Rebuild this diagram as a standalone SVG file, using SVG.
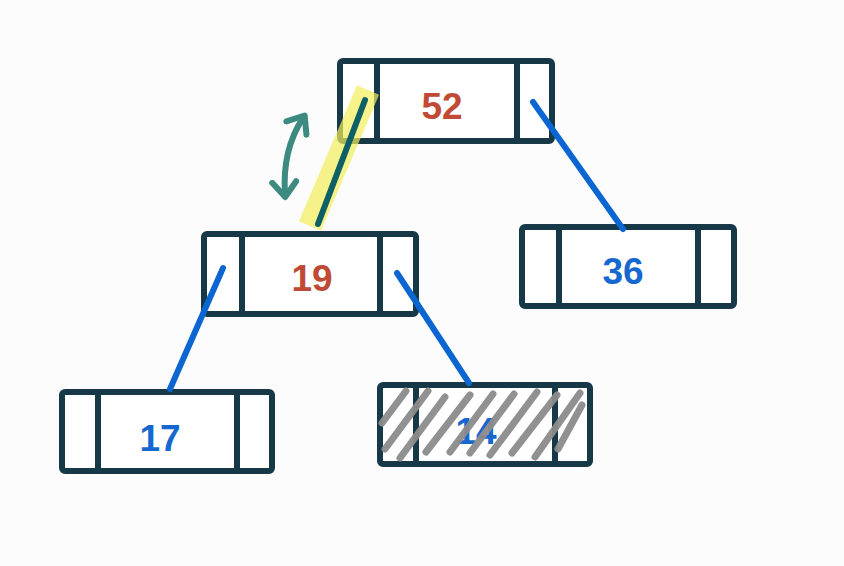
<svg xmlns="http://www.w3.org/2000/svg" width="844" height="566" viewBox="0 0 844 566">
<style>
.box{fill:#fff;stroke:#173847;stroke-width:6;stroke-linejoin:round}
.div{stroke:#173847;stroke-width:6}
.lbl{font-family:"Liberation Sans",Arial,sans-serif;font-weight:bold;font-size:37px;text-anchor:middle}
.red{fill:#c04a35}
.blue{fill:#1668d0}
.edge{stroke:#0b66d1;stroke-width:6;stroke-linecap:round;fill:none}
.hatch{stroke:#8c8c8c;stroke-width:7;stroke-linecap:round;opacity:0.95}
</style>
<defs>
<marker id="ah" viewBox="0 0 10 10" refX="5" refY="5" markerWidth="5" markerHeight="5" orient="auto-start-reverse" markerUnits="strokeWidth">
<path d="M1,1 L6,5 L1,9" fill="none" stroke="#3d8a80" stroke-width="2" stroke-linecap="round" stroke-linejoin="round"/>
</marker>
</defs>
<rect width="844" height="566" fill="#fcfcfc"/>
<g id="n52">
<rect class="box" x="340" y="61" width="212" height="80" rx="3"/>
<line class="div" x1="377" y1="61" x2="377" y2="141"/>
<line class="div" x1="517" y1="61" x2="517" y2="141"/>
<text class="lbl red" x="442" y="119">52</text>
</g>
<g id="n19">
<rect class="box" x="204" y="234" width="212" height="80" rx="3"/>
<line class="div" x1="242" y1="234" x2="242" y2="314"/>
<line class="div" x1="380" y1="234" x2="380" y2="314"/>
<text class="lbl red" x="312" y="291">19</text>
</g>
<g id="n36">
<rect class="box" x="522" y="227" width="212" height="79" rx="3"/>
<line class="div" x1="559" y1="227" x2="559" y2="306"/>
<line class="div" x1="698" y1="227" x2="698" y2="306"/>
<text class="lbl blue" x="623" y="284">36</text>
</g>
<g id="n17">
<rect class="box" x="62" y="392" width="210" height="79" rx="3"/>
<line class="div" x1="98" y1="392" x2="98" y2="471"/>
<line class="div" x1="237" y1="392" x2="237" y2="471"/>
<text class="lbl blue" x="160" y="451">17</text>
</g>
<g id="n14">
<rect class="box" x="380" y="385" width="210" height="79" rx="3"/>
<line class="div" x1="416" y1="385" x2="416" y2="464"/>
<line class="div" x1="555" y1="385" x2="555" y2="464"/>
<text class="lbl blue" x="476" y="444">14</text>
<g class="hatch">
<line x1="382" y1="423" x2="406" y2="391"/>
<line x1="385" y1="449" x2="428" y2="391"/>
<line x1="400" y1="458" x2="445" y2="397"/>
<line x1="426" y1="452" x2="470" y2="395"/>
<line x1="450" y1="452" x2="493" y2="394"/>
<line x1="470" y1="453" x2="514" y2="394"/>
<line x1="490" y1="455" x2="537" y2="392"/>
<line x1="512" y1="453" x2="557" y2="395"/>
<line x1="535" y1="457" x2="580" y2="393"/>
<line x1="558" y1="449" x2="582" y2="405"/>
</g>
</g>
<g id="connectors">
<line x1="368" y1="90" x2="310" y2="226" stroke="#f3ef5a" stroke-width="24" stroke-linecap="butt" opacity="0.7"/>
<line x1="365" y1="100" x2="318" y2="224" stroke="#0f5f66" stroke-width="6" stroke-linecap="round"/>
<line class="edge" x1="533" y1="102" x2="623" y2="229"/>
<line class="edge" x1="223" y1="268" x2="170" y2="389"/>
<line class="edge" x1="397" y1="273" x2="469" y2="383"/>
<path d="M303,118 Q282,150 285,194" fill="none" stroke="#3d8a80" stroke-width="6" stroke-linecap="round" marker-start="url(#ah)" marker-end="url(#ah)"/>
</g>
</svg>
